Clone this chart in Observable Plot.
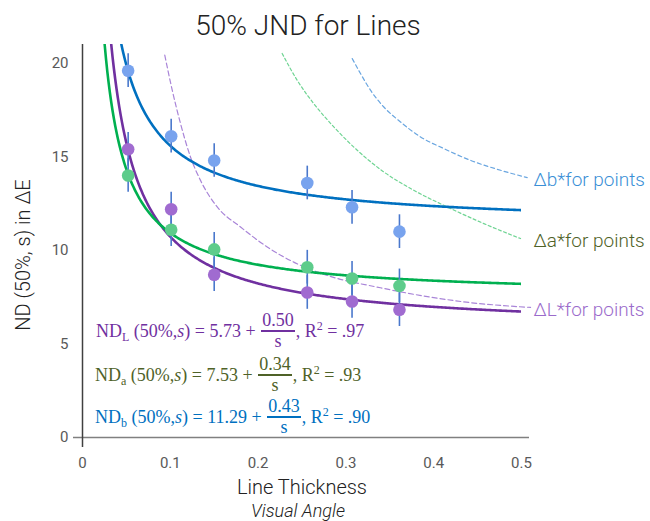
<!DOCTYPE html>
<html>
<head>
<meta charset="utf-8">
<script src="https://cdn.jsdelivr.net/npm/d3@7"></script>
<script src="https://cdn.jsdelivr.net/npm/@observablehq/plot@0.6"></script>
<style>
  body { margin: 0; background: #fff; font-family: Roboto, sans-serif; }
  #wrap { position: relative; width: 650px; height: 521px; overflow: hidden; background: #fff; }
  #title { position: absolute; left: 0; top: 4px; width: 616px; height: 44px; line-height: 44px; text-align: center;
           font-size: 28px; font-weight: 300; color: #222; }
  #chart { position: absolute; left: 0; top: 44px; }
  .eq { position: absolute; display: flex; align-items: center; height: 40px; white-space: pre;
        font-family: "Liberation Serif", serif; font-size: 18px; }
  .eq sub { font-size: 12px; vertical-align: -4px; line-height: 0; }
  .eq sup { font-size: 12px; vertical-align: 7px; line-height: 0; }
  .frac { display: inline-flex; flex-direction: column; align-items: stretch; text-align: center; margin: 0 1px; }
  .frac .num { border-bottom: 2px solid currentColor; padding: 0 1px; line-height: 19px; }
  .frac .den { line-height: 19px; }
</style>
</head>
<body>
<div id="wrap">
  <div id="title">50% JND for Lines</div>
  <div id="chart"></div>
</div>
<script>
// ---------- data ----------
const titleText = "50% JND for Lines";
const yLabel = "ND (50%, s) in ΔE";
const xLabel = "Line Thickness";
const xSubLabel = "Visual Angle";

const xTicks = [0, 0.1, 0.2, 0.3, 0.4, 0.5];
const yTicks = [0, 5, 10, 15, 20];

const seriesNames = ["L", "a", "b"];
const thickness = [0.052, 0.101, 0.150, 0.256, 0.307, 0.361];
const ndL = [15.4, 12.2, 8.7, 7.75, 7.27, 6.83];
const ndA = [14.0, 11.1, 10.05, 9.1, 8.5, 8.1];
const ndB = [19.6, 16.1, 14.8, 13.6, 12.3, 11.0];
const errL = [0.9, 0.9, 0.9, 0.9, 0.9, 0.9];
const errA = [0.9, 0.9, 0.9, 0.9, 0.9, 0.9];
const errB = [0.9, 0.9, 0.9, 0.9, 0.9, 0.9];

// fitted model ND = intercept + slope / s (from the equations printed on the chart)
const fitIntercept = [5.73, 7.53, 11.29];
const fitSlope = [0.50, 0.34, 0.43];
const fitR2 = [".97", ".93", ".90"];

// dashed "for points" reference curves
const dashL_s = [0.0937, 0.1022, 0.1116, 0.1230, 0.1344, 0.1534, 0.1800, 0.2104, 0.2406, 0.2787, 0.3394, 0.3964, 0.4339, 0.5103];
const dashL_v = [20.43, 18.56, 16.78, 14.99, 13.74, 12.32, 11.25, 10.18, 9.37, 8.66, 8.0, 7.5, 7.25, 6.95];
const dashA_s = [0.2274, 0.2445, 0.2634, 0.2862, 0.3129, 0.3432, 0.3773, 0.4154, 0.4571, 0.4989];
const dashA_v = [20.52, 19.09, 17.84, 16.60, 15.35, 14.19, 13.21, 12.32, 11.43, 10.63];
const dashB_s = [0.3072, 0.3166, 0.3280, 0.3432, 0.3622, 0.3850, 0.4115, 0.4419, 0.4761, 0.5065];
const dashB_v = [20.25, 19.45, 18.56, 17.66, 16.86, 16.06, 15.44, 14.81, 14.28, 13.89];
const pointLabels = ["ΔL*for points", "Δa*for points", "Δb*for points"];

// ---------- styling ----------
const dotColor = {L: "#a06bd0", a: "#5dcc8b", b: "#78a3ee"};
const fitColor = {L: "#7030a0", a: "#00b050", b: "#0070c0"};
const dashColor = {L: "#a985d8", a: "#6fd493", b: "#6aa6e0"};
const dashArray = {L: "5,3", a: "3,2.5", b: "4,3"};
const labelColor = {L: "#9b6bcb", a: "#4f6228", b: "#3b8fd6"};
const eqColor = {L: "#7030a0", a: "#4f6228", b: "#0070c0"};
const eqPos = {L: [96, 311], a: [95, 355], b: [95, 397]};

const yMax = 21;
const values = [ndL, ndA, ndB];
const errs = [errL, errA, errB];
const dashS = [dashL_s, dashA_s, dashB_s];
const dashV = [dashL_v, dashA_v, dashB_v];

const obs = seriesNames.flatMap((k, i) => thickness.map((s, j) => ({key: k, s, v: values[i][j], e: errs[i][j]})));
const dashed = seriesNames.flatMap((k, i) => dashS[i].map((s, j) => ({key: k, s, v: dashV[i][j]})));
const fits = seriesNames.flatMap((k, i) => {
  const s0 = fitSlope[i] / (yMax - fitIntercept[i]);
  return d3.range(s0, 0.5052, 0.0015).map(s => ({key: k, s, v: fitIntercept[i] + fitSlope[i] / s}));
});
const labels = seriesNames.map((k, i) => ({key: k, text: pointLabels[i], v: dashV[i][dashV[i].length - 1]}));

const plot = Plot.plot({
  width: 650,
  height: 477,
  marginLeft: 82,
  marginRight: 129,
  marginTop: 0,
  marginBottom: 84,
  style: {fontFamily: "Roboto, sans-serif", fontSize: "15px", color: "#595959", background: "transparent", overflow: "visible"},
  x: {domain: [0, 0.5], ticks: xTicks, tickSize: 0, tickPadding: 20, tickFormat: d => String(d), label: null},
  y: {domain: [0, yMax], ticks: yTicks, tickSize: 0, tickPadding: 14, tickFormat: d => String(d), label: null},
  marks: [
    Plot.ruleY([0], {stroke: "#808080", strokeWidth: 1.5, insetLeft: -9, insetRight: -8}),
    Plot.ruleX([0], {stroke: "#404040", strokeWidth: 1.5, insetBottom: -10}),
    ...seriesNames.map(k => Plot.line(dashed.filter(d => d.key === k), {
      x: "s", y: "v", stroke: dashColor[k], strokeWidth: 1.2, strokeDasharray: dashArray[k], curve: "monotone-x"
    })),
    ...seriesNames.map(k => Plot.line(fits.filter(d => d.key === k), {
      x: "s", y: "v", stroke: fitColor[k], strokeWidth: 2.6, clip: true
    })),
    Plot.ruleX(obs, {x: "s", y1: d => d.v - d.e, y2: d => d.v + d.e, stroke: "#4a78cc", strokeWidth: 1.6}),
    Plot.dot(obs, {x: "s", y: "v", r: 6.3, fill: d => dotColor[d.key], stroke: "none"}),
    Plot.text(labels, {y: "v", text: "text", frameAnchor: "right", dx: 12, dy: 2, textAnchor: "start",
      fill: d => labelColor[d.key], fontSize: 19, fontWeight: 300}),
    Plot.text([yLabel], {text: d => d, frameAnchor: "left", textAnchor: "middle", dx: -59, dy: 14, rotate: -90,
      fontSize: 20, fontWeight: 300, fill: "#222"}),
    Plot.text([xLabel], {text: d => d, frameAnchor: "bottom", dy: 56, fontSize: 20, fontWeight: 300, fill: "#222"}),
    Plot.text([xSubLabel], {text: d => d, frameAnchor: "bottom", dy: 79, dx: -4, fontSize: 18, fontWeight: 300,
      fontStyle: "italic", fill: "#222"})
  ]
});
document.getElementById("chart").appendChild(plot);
document.getElementById("title").textContent = titleText;

// equations
const wrap = document.getElementById("wrap");
seriesNames.forEach((k, i) => {
  const div = document.createElement("div");
  div.className = "eq";
  div.style.color = eqColor[k];
  div.style.left = eqPos[k][0] + "px";
  div.style.top = eqPos[k][1] + "px";
  div.innerHTML =
    `<span>ND<sub>${k}</sub> (50%,<i>s</i>) = ${fitIntercept[i].toFixed(2)} + </span>` +
    `<span class="frac"><span class="num">${fitSlope[i].toFixed(2)}</span><span class="den">s</span></span>` +
    `<span>, R<sup>2</sup> = ${fitR2[i]}</span>`;
  wrap.appendChild(div);
});
</script>
</body>
</html>
